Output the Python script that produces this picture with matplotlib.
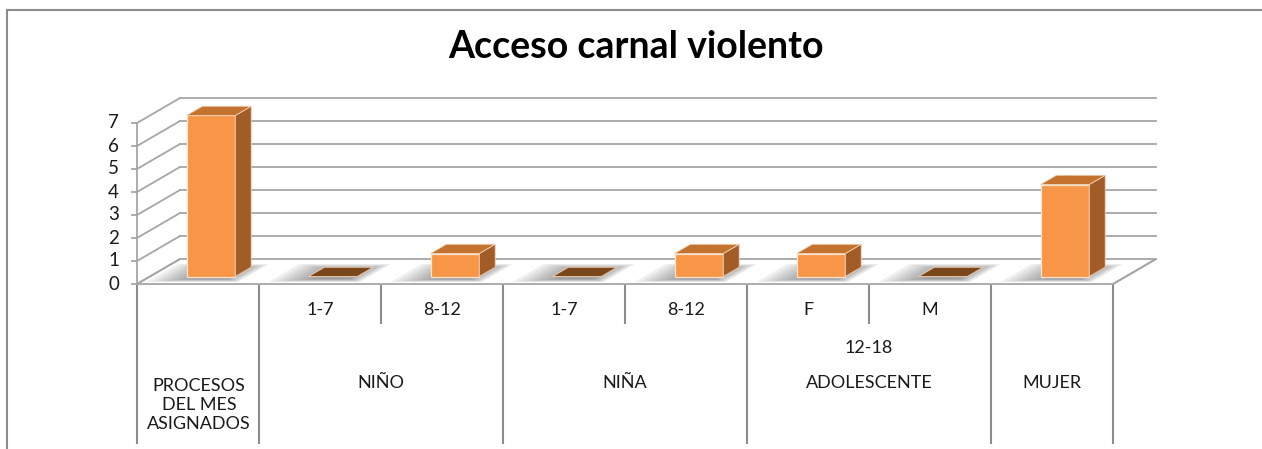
import matplotlib.pyplot as plt
from matplotlib.patches import Polygon
from matplotlib.lines import Line2D

plt.rcParams["font.family"] = ["Lato", "DejaVu Sans"]

TITLE = "Acceso carnal violento"
values = [7, 0, 1, 0, 1, 1, 0, 4]
sub_labels = ["", "1-7", "8-12", "1-7", "8-12", "F", "M", ""]
group_labels = ["PROCESOS\nDEL MES\nASIGNADOS", "NIÑO", "NIÑA", "ADOLESCENTE", "MUJER"]
group_sizes = [1, 2, 2, 2, 1]
mid_labels = {"ADOLESCENTE": "12-18"}
y_ticks = [0, 1, 2, 3, 4, 5, 6, 7]

W, H = 1262, 449
X0, PER_CAT = 137, 122      # pixel of category 0 and pixels per category
Y0, PER_UNIT = 284, 23      # pixel of value 0 and pixels per unit
DX, DY = 43 / PER_CAT, 25 / PER_UNIT  # depth of the floor in data units
BAR_W = 0.4
D_FRONT, D_DEPTH = 0.3, 0.37

FRONT = "#f79646"
SIDE = "#a15c27"
TOP = "#c4732f"
TOP_ZERO = "#7a471c"
GRID = "#a6a6a6"
TXT = "#1a1a1a"


def px(xp, yp):
    # pixel position -> data position (layout only)
    return (xp - X0) / PER_CAT, (Y0 - yp) / PER_UNIT


fig = plt.figure(figsize=(W / 100, H / 100), dpi=100)
ax = fig.add_axes([0, 0, 1, 1])
ax.set_xlim(px(0, 0)[0], px(W, 0)[0])
ax.set_ylim(px(0, H)[1], px(0, 0)[1])
ax.axis("off")

# chart frame
fig.add_artist(Line2D([7 / W, 7 / W], [0, 1 - 10 / H], transform=fig.transFigure, color="#8c8c8c", lw=1.5))
fig.add_artist(Line2D([7 / W, 1], [1 - 10 / H, 1 - 10 / H], transform=fig.transFigure, color="#8c8c8c", lw=1.5))

n = len(values)
ymax = max(y_ticks)

# floor
ax.add_patch(Polygon([(0, 0), (n, 0), (n + DX, DY), (DX, DY)], closed=True,
                     facecolor="white", edgecolor=GRID, lw=1.3, zorder=1))

# soft shadows on the floor
for i in range(n):
    for k in range(8):
        s = k * 0.045
        xa = i + 0.05 + s
        xb = i + 0.8 - s * 0.4
        da, db = 0.08 + s * 0.35, 0.8 - s * 0.6
        ax.add_patch(Polygon([(xa + da * DX, da * DY), (xb + da * DX, da * DY),
                              (xb + db * DX, db * DY), (xa + db * DX, db * DY)],
                             closed=True, facecolor="#555555", edgecolor="none",
                             alpha=0.09, zorder=2))

# walls: side-wall diagonals and back-wall lines
for v in y_ticks:
    ax.plot([0, DX], [v, v + DY], color=GRID, lw=1.3, zorder=1.5)
    if v > 0:
        ax.plot([DX, n + DX], [v + DY, v + DY], color=GRID, lw=1.3, zorder=1.5)
    ax.plot([px(132, 0)[0], 0], [v, v], color=GRID, lw=1.3, zorder=1.5)
    ax.text(px(119, 0)[0], v, str(v), ha="right", va="center", fontsize=13.5, color=TXT)
ax.plot([0, 0], [0, ymax], color=GRID, lw=1.3, zorder=1.5)
ax.plot([n, n + DX], [0, DY], color=GRID, lw=1.3, zorder=1.5)

# bars
for i, v in enumerate(values):
    x0 = i + 0.5 - BAR_W / 2 + D_FRONT * DX
    x1 = x0 + BAR_W
    yb = D_FRONT * DY
    yt = yb + v
    ddx, ddy = D_DEPTH * DX, D_DEPTH * DY
    if v > 0:
        ax.add_patch(Polygon([(x0, yb), (x1, yb), (x1, yt), (x0, yt)], closed=True,
                             facecolor=FRONT, edgecolor="#fde3cc", lw=0.9, zorder=5))
        ax.add_patch(Polygon([(x1, yb), (x1 + ddx, yb + ddy), (x1 + ddx, yt + ddy), (x1, yt)],
                             closed=True, facecolor=SIDE, edgecolor="#f3d2b6", lw=0.6, zorder=5))
        top_color = TOP
    else:
        top_color = TOP_ZERO
    ax.add_patch(Polygon([(x0, yt), (x1, yt), (x1 + ddx, yt + ddy), (x0 + ddx, yt + ddy)],
                         closed=True, facecolor=top_color, edgecolor="#f3d2b6", lw=0.6, zorder=5))

# category axis table
yl_top = px(0, 286)[1]
yl_short = px(0, 323)[1]
yl_long = px(0, 443)[1]
start = 0
bounds = [0]
for g, size in zip(group_labels, group_sizes):
    start += size
    bounds.append(start)
for i in range(n + 1):
    if i in bounds:
        ax.plot([i, i], [yl_top, yl_long], color="#8c8c8c", lw=1.5)
    else:
        ax.plot([i, i], [yl_top, yl_short], color="#8c8c8c", lw=1.5)

for i, lab in enumerate(sub_labels):
    if lab:
        ax.text(i + 0.5, px(0, 310)[1], lab, ha="center", va="center", fontsize=13, color=TXT)

for g, a, b in zip(group_labels, bounds[:-1], bounds[1:]):
    c = (a + b) / 2
    if "\n" in g:
        ax.text(c + 0.01, px(0, 405)[1], g, ha="center", va="center", fontsize=13, color=TXT,
                linespacing=1.2)
        continue
    ax.text(c, px(0, 383)[1], g, ha="center", va="center", fontsize=13, color=TXT)
    if g in mid_labels:
        ax.text(c, px(0, 348)[1], mid_labels[g], ha="center", va="center", fontsize=13, color=TXT)

ax.text(px(636, 0)[0], px(0, 47)[1], TITLE, ha="center", va="center",
        fontsize=27, fontweight="bold", color="black")

fig.savefig("out.png", dpi=100)
